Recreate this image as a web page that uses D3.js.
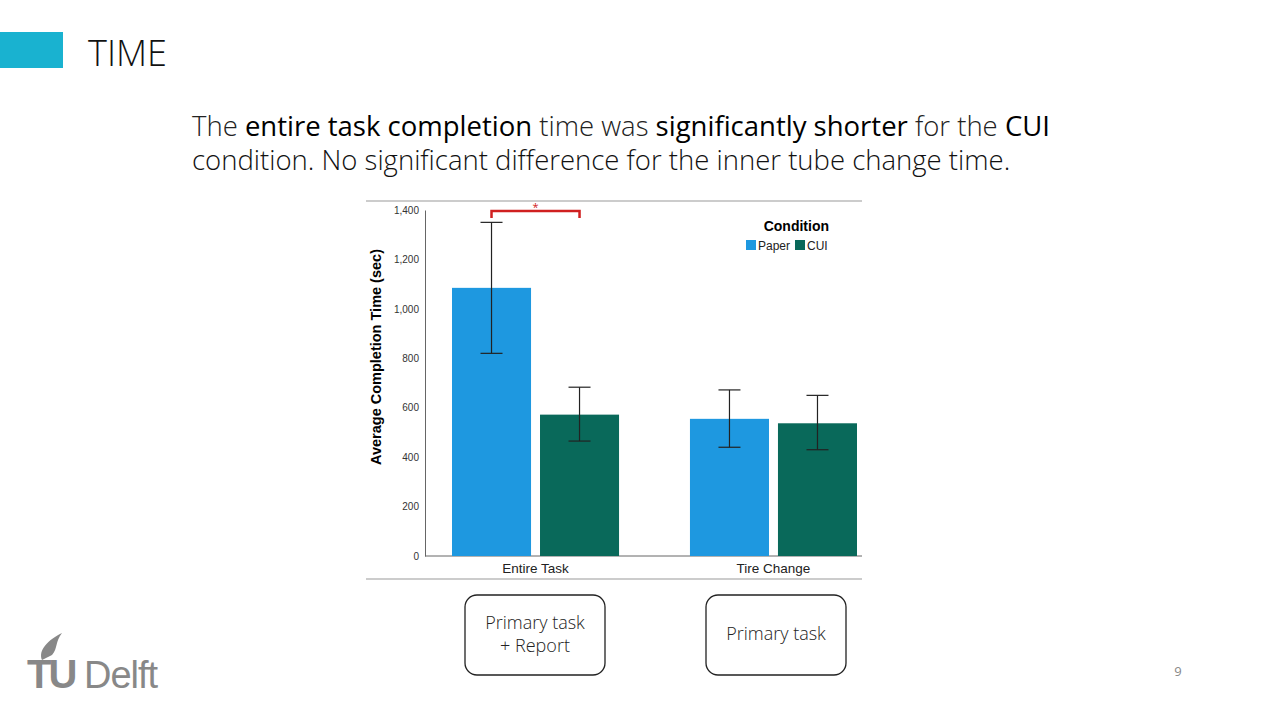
<!DOCTYPE html><html><head><meta charset="utf-8"><script src="https://cdn.jsdelivr.net/npm/d3@7"></script>
<style>body{margin:0;background:#fff;}svg{font-family:"Open Sans",sans-serif;}</style></head><body><svg id="s" width="1280" height="720"></svg>
<script>
const categories=["Entire Task","Tire Change"];
const conditions=["Paper","CUI"];
const means=[[1085,572],[555,537]];
const errLow=[[820,465],[440,430]];
const errHigh=[[1350,683],[672,650]];
const yTicks=[0,200,400,600,800,1000,1200,1400];
const colors=["#1e98e0","#09695a"];
const svg=d3.select("#s");
svg.append("rect").attr("x",0).attr("y",32).attr("width",63).attr("height",36).attr("fill","#19b2d0");
svg.append("text").attr("x",88).attr("y",66).attr("font-size",36).attr("font-weight",300).attr("fill","#111").text("TIME");
const t=svg.append("text").attr("font-size",27.5).attr("fill","#111");
const l1=t.append("tspan").attr("x",192).attr("y",136);
[["The ",0],["entire task completion",1],[" time was ",0],["significantly shorter",1],[" for the ",0],["CUI",1]].forEach(([s,b])=>l1.append("tspan").attr("font-weight",b?400:300).attr("fill",b?"#000":"#222").text(s));
t.append("tspan").attr("x",192).attr("y",170).attr("font-weight",300).text("condition. No significant difference for the inner tube change time.");
const y=d3.scaleLinear().domain([0,1400]).range([556,210]);
const x0=d3.scaleBand().domain(categories).range([452,857]).paddingInner(0.298).paddingOuter(0);
const x1=d3.scaleBand().domain(conditions).range([0,x0.bandwidth()]).paddingInner(0.102);
svg.append("line").attr("x1",366).attr("x2",862).attr("y1",201).attr("y2",201).attr("stroke","#999");
svg.append("line").attr("x1",366).attr("x2",862).attr("y1",579).attr("y2",579).attr("stroke","#ccc").attr("stroke-width",2);
const ax=svg.append("g").attr("transform","translate(425,0)").call(d3.axisLeft(y).tickValues(yTicks).tickSize(0).tickPadding(6).tickFormat(d3.format(",")));
ax.select(".domain").attr("stroke","#666");ax.selectAll("text").attr("font-size",10).attr("fill","#333").attr("font-family","Liberation Sans,Arial");
svg.append("line").attr("x1",425).attr("x2",862).attr("y1",556).attr("y2",556).attr("stroke","#666");
categories.forEach((c,i)=>{
 svg.append("text").attr("x",x0(c)+x0.bandwidth()/2).attr("y",573).attr("text-anchor","middle").attr("font-size",13.5).attr("font-family","Liberation Sans,Arial").attr("fill","#222").text(c);
 conditions.forEach((k,j)=>{
  const bx=x0(c)+x1(k),w=x1.bandwidth(),cx=bx+w/2;
  svg.append("rect").attr("x",bx).attr("y",y(means[i][j])).attr("width",w).attr("height",556-y(means[i][j])).attr("fill",colors[j]);
  const g=svg.append("g").attr("stroke","#222").attr("stroke-width",1.2);
  g.append("line").attr("x1",cx).attr("x2",cx).attr("y1",y(errLow[i][j])).attr("y2",y(errHigh[i][j]));
  [errLow[i][j],errHigh[i][j]].forEach(v=>g.append("line").attr("x1",cx-11).attr("x2",cx+11).attr("y1",y(v)).attr("y2",y(v)));
 });
});
const a=x0(categories[0])+x1("Paper")+x1.bandwidth()/2,b=x0(categories[0])+x1("CUI")+x1.bandwidth()/2;
svg.append("path").attr("d",`M${a},218V211H${b}V218`).attr("fill","none").attr("stroke","#d02020").attr("stroke-width",2.5);
svg.append("text").attr("x",(a+b)/2).attr("y",211).attr("text-anchor","middle").attr("font-size",11).attr("fill","#d02020").text("*");
svg.append("text").attr("x",381).attr("y",357).attr("transform","rotate(-90,381,357)").attr("text-anchor","middle").attr("font-size",14.5).attr("font-weight","bold").attr("font-family","Liberation Sans,Arial").text("Average Completion Time (sec)");
svg.append("text").attr("x",829).attr("y",231).attr("text-anchor","end").attr("font-size",14).attr("font-weight","bold").attr("font-family","Liberation Sans,Arial").text("Condition");
[[746,"Paper"],[795,"CUI"]].forEach(([lx,n],j)=>{svg.append("rect").attr("x",lx).attr("y",240).attr("width",10).attr("height",10).attr("fill",colors[j]);
 svg.append("text").attr("x",lx+12).attr("y",250).attr("font-size",12).attr("font-family","Liberation Sans,Arial").attr("fill","#222").text(n);});
[[465,"Primary task","+ Report"],[706,"Primary task",null]].forEach(([bx,a1,a2])=>{
 svg.append("rect").attr("x",bx).attr("y",595).attr("width",140).attr("height",80).attr("rx",12).attr("fill","#fff").attr("stroke","#222").attr("stroke-width",1.3);
 if(a2){svg.append("text").attr("x",bx+70).attr("y",629).attr("text-anchor","middle").attr("font-size",18).attr("font-weight",300).attr("fill","#222").text(a1);
 svg.append("text").attr("x",bx+70).attr("y",652).attr("text-anchor","middle").attr("font-size",18).attr("font-weight",300).attr("fill","#222").text(a2);}
 else svg.append("text").attr("x",bx+70).attr("y",640).attr("text-anchor","middle").attr("font-size",18).attr("font-weight",300).attr("fill","#222").text(a1);
});
svg.append("text").attr("x",1178).attr("y",676).attr("text-anchor","middle").attr("font-size",13).attr("fill","#888").text("9");
svg.append("text").attr("x",27).attr("y",688).attr("font-size",40).attr("font-weight","bold").attr("fill","#888").attr("font-family","Liberation Sans,Arial").attr("letter-spacing",-3).text("TU");
svg.append("text").attr("x",84).attr("y",688).attr("font-size",38).attr("fill","#888").attr("font-family","Liberation Sans,Arial").attr("letter-spacing",-1).text("Delft");
svg.append("path").attr("d","M42,660 C38,650 48,640 62,633 C55,642 58,648 52,655 Z").attr("fill","#888");
</script></body></html>
